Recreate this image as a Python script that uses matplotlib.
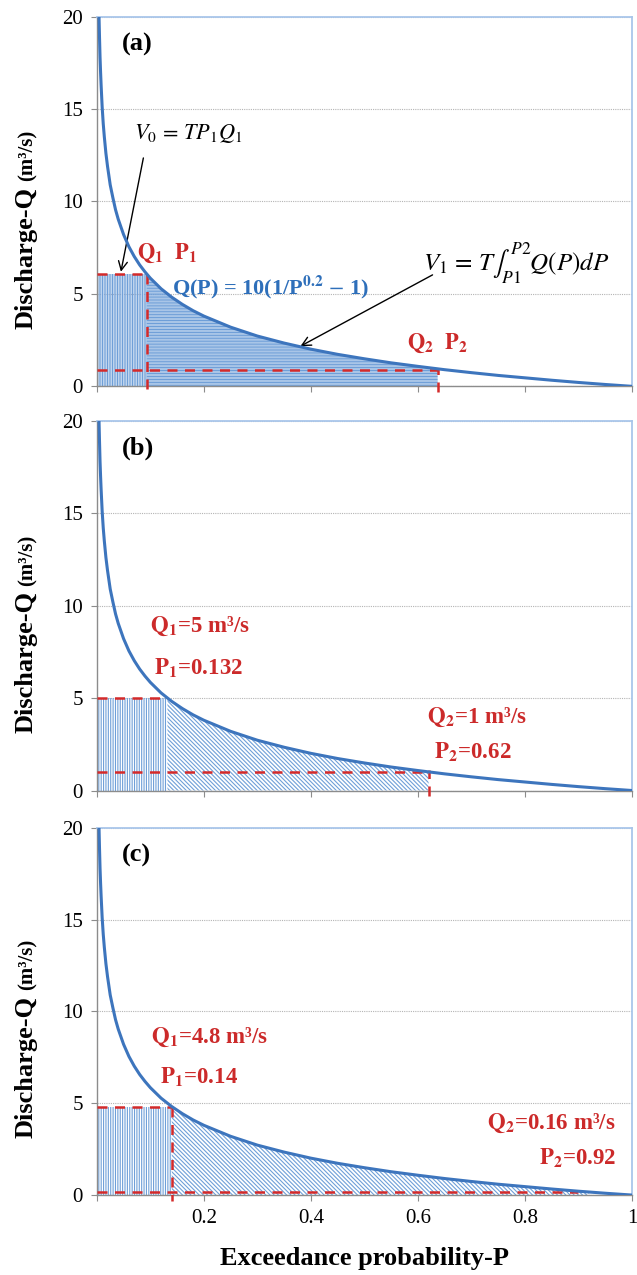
import numpy as np
import matplotlib
matplotlib.use("Agg")
import matplotlib.pyplot as plt
from matplotlib.transforms import blended_transform_factory

plt.rcParams['font.family'] = ['Liberation Serif', 'DejaVu Serif']
plt.rcParams['mathtext.fontset'] = 'stix'
plt.rcParams['hatch.linewidth'] = 0.8

# flow duration curve
P_curve = [0.0041, 0.005, 0.006, 0.007, 0.008, 0.009, 0.01, 0.012, 0.014, 0.017,
           0.02, 0.025, 0.03, 0.035, 0.04, 0.05, 0.06, 0.07, 0.08, 0.09, 0.10,
           0.12, 0.14, 0.16, 0.18, 0.2, 0.25, 0.3, 0.35, 0.4, 0.45, 0.5, 0.55,
           0.6, 0.65, 0.7, 0.75, 0.8, 0.85, 0.9, 0.95, 1.0]
Q_curve = [20.0, 18.9, 17.8, 17.0, 16.3, 15.7, 15.1, 14.2, 13.5, 12.6,
           11.9, 10.9, 10.2, 9.55, 9.04, 8.21, 7.55, 7.02, 6.57, 6.19, 5.85,
           5.28, 4.82, 4.43, 4.09, 3.80, 3.20, 2.72, 2.34, 2.01, 1.73, 1.49, 1.27,
           1.08, 0.90, 0.74, 0.59, 0.46, 0.33, 0.21, 0.10, 0.0]

# (P1, Q1, P2, Q2) for each panel
panel_names = ['(a)', '(b)', '(c)']
P1_vals = [0.093, 0.132, 0.14]
Q1_vals = [6.1, 5.0, 4.8]
P2_vals = [0.637, 0.62, 0.92]
Q2_vals = [0.86, 1.0, 0.16]

x_ticks = [0, 0.2, 0.4, 0.6, 0.8, 1.0]
x_ticklabels = ['', '0.2', '0.4', '0.6', '0.8', '1']
y_ticks = [0, 5, 10, 15, 20]

BLUE = '#3d75bd'
HATCH = '#6f9fd8'
RED = '#d42a2a'
TXT_RED = '#cc2a2a'

fig = plt.figure(figsize=(6.37, 12.75), dpi=100)
rects = [[0.152, 0.697, 0.840, 0.290],
         [0.152, 0.380, 0.840, 0.290],
         [0.152, 0.0627, 0.840, 0.288]]

P_arr = np.array(P_curve)
Q_arr = np.array(Q_curve)

axes = []
for i, rect in enumerate(rects):
    ax = fig.add_axes(rect)
    axes.append(ax)
    P1, Q1, P2, Q2 = P1_vals[i], Q1_vals[i], P2_vals[i], Q2_vals[i]

    # rectangle below Q1 (vertical hatch)
    vhatch = '|' * 10 if i == 0 else '|' * 7
    ax.fill_between([0, P1], [0, 0], [Q1, Q1], facecolor='none',
                    edgecolor=HATCH, linewidth=0, hatch=vhatch, zorder=1)

    # area under the curve between P1 and P2
    inside = (P_arr > P1) & (P_arr < P2)
    px = np.concatenate([[P1], P_arr[inside], [P2]])
    qy = np.concatenate([[Q1], Q_arr[inside], [Q2]])
    hatch = '-' * 11 if i == 0 else '\\' * 8
    ax.fill_between(px, 0, qy, facecolor='none', edgecolor=HATCH,
                    linewidth=0, hatch=hatch, zorder=1)

    # dashed guide lines
    dash = dict(color=RED, lw=1.8, ls=(0, (4, 3)), zorder=3, clip_on=False)
    ax.plot([0, P1], [Q1, Q1], **dash)
    ax.plot([0, P2 if i < 2 else 0.9], [Q2, Q2], **dash)
    if i != 1:
        ax.plot([P1, P1], [Q1, -0.3], **dash)
    if i < 2:
        ax.plot([P2, P2], [-0.3, Q2 + 0.1], **dash)

    ax.plot(P_curve, Q_curve, color=BLUE, lw=2.2, zorder=4)

    ax.set_xlim(0, 1)
    ax.set_ylim(0, 20)
    ax.set_xticks(x_ticks)
    ax.set_yticks(y_ticks)
    if i == 2:
        ax.set_xticklabels(x_ticklabels)
    else:
        ax.set_xticklabels([])
    ax.tick_params(axis='both', direction='out', length=4, color='#8c8c8c',
                   labelsize=15, pad=6)
    ax.yaxis.grid(True, color='#b4b4b4', ls=(0, (1, 1)), lw=0.8)
    ax.set_axisbelow(True)
    for s in ['left', 'bottom']:
        ax.spines[s].set_color('#8c8c8c')
        ax.spines[s].set_linewidth(1.0)
    for s in ['top', 'right']:
        ax.spines[s].set_color('#a9c6ea')
        ax.spines[s].set_linewidth(1.3)

    # y label in two sizes
    tr = blended_transform_factory(ax.transAxes, ax.transData)
    t1 = ax.text(-0.11, 3.1, 'Discharge-Q', transform=tr, rotation=90,
                 ha='right', va='bottom', fontsize=19, fontweight='bold')
    ax.annotate('(m³/s)', xy=(1, 1), xycoords=t1, xytext=(0, 4),
                textcoords='offset points', rotation=90, ha='right',
                va='bottom', fontsize=15, fontweight='bold')

    ax.text(0.047, 18.5, panel_names[i], fontsize=19, fontweight='bold',
            va='center', ha='left')

axA, axB, axC = axes
arrow = dict(arrowstyle='->', color='black', lw=1.0, mutation_scale=16)

# panel (a)
axA.text(0.17, 13.7, r'$V_0\,=\,TP_1Q_1$', fontsize=16, ha='center', va='center')
axA.annotate('', xy=(0.044, 6.05), xytext=(0.088, 12.5), arrowprops=arrow)
axA.text(0.075, 7.2, r'$\mathbf{Q_1}$  $\mathbf{P_1}$', color=TXT_RED,
         fontsize=16, fontweight='bold', va='center', ha='left')
axA.text(0.14, 5.35, r'Q(P) = 10(1/P$^{\mathbf{0.2}}$ $-$ 1)', color='#2e6fba',
         fontsize=16, fontweight='bold', va='center', ha='left')
axA.text(0.61, 6.65, r'$V_1\,=\,T\int_{P1}^{P2}Q(P)dP$', fontsize=18,
         va='center', ha='left')
axA.annotate('', xy=(0.376, 2.1), xytext=(0.632, 6.1), arrowprops=arrow)
axA.text(0.58, 2.3, r'$\mathbf{Q_2}$  $\mathbf{P_2}$', color=TXT_RED,
         fontsize=16, fontweight='bold', va='center', ha='left')

# panel (b)
red_txt = dict(color=TXT_RED, fontsize=16.5, fontweight='bold', va='center')
axB.text(0.099, 8.87, r'$\mathbf{Q_1}$=5 m³/s', ha='left', **red_txt)
axB.text(0.106, 6.63, r'$\mathbf{P_1}$=0.132', ha='left', **red_txt)
axB.text(0.617, 3.94, r'$\mathbf{Q_2}$=1 m³/s', ha='left', **red_txt)
axB.text(0.63, 2.06, r'$\mathbf{P_2}$=0.62', ha='left', **red_txt)

# panel (c)
axC.text(0.102, 8.57, r'$\mathbf{Q_1}$=4.8 m³/s', ha='left', **red_txt)
axC.text(0.118, 6.4, r'$\mathbf{P_1}$=0.14', ha='left', **red_txt)
axC.text(0.97, 3.88, r'$\mathbf{Q_2}$=0.16 m³/s', ha='right', **red_txt)
axC.text(0.97, 1.99, r'$\mathbf{P_2}$=0.92', ha='right', **red_txt)

axC.set_xlabel('Exceedance probability-P', fontsize=19, fontweight='bold',
               labelpad=14)

fig.savefig('out.png', dpi=100)
